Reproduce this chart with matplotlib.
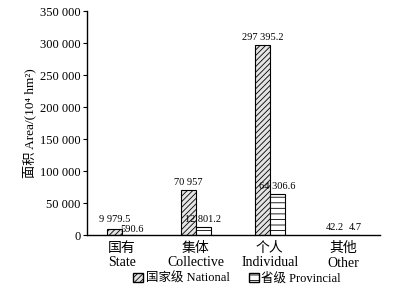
import matplotlib
matplotlib.use("Agg")
import matplotlib.pyplot as plt
import numpy as np
from matplotlib.patches import Patch

plt.rcParams['font.family'] = ['Liberation Serif', 'Noto Sans CJK SC']
plt.rcParams['hatch.linewidth'] = 0.6

categories_cn = ["国有", "集体", "个人", "其他"]
categories_en = ["State", "Collective", "Individual", "Other"]
national = [9979.5, 70957, 297395.2, 42.2]
provincial = [590.6, 12801.2, 64306.6, 4.7]
national_labels = ["9 979.5", "70 957", "297 395.2", "42.2"]
provincial_labels = ["590.6", "12 801.2", "64 306.6", "4.7"]
yticks = [0, 50000, 100000, 150000, 200000, 250000, 300000, 350000]
ytick_labels = ["0", "50 000", "100 000", "150 000", "200 000", "250 000", "300 000", "350 000"]

fig = plt.figure(figsize=(3.95, 2.99), dpi=100)
ax = fig.add_axes([0.22, 0.214, 0.742, 0.749])

x = np.arange(len(categories_cn))
w = 0.2
ax.bar(x - w/2, national, w, facecolor='#e4e4e4', edgecolor='black', hatch='//////', linewidth=0.8)
ax.bar(x + w/2, provincial, w, facecolor='white', edgecolor='black', hatch='---', linewidth=0.8)

for xi, v, p, lab in zip(x, national, provincial, national_labels):
    dx = 0.0
    if v < 1000:
        off = 4000
        dx = -0.02
    elif p < 1000:
        off = 8000
    else:
        off = 3500
    ax.text(xi - w/2 + dx, v + off, lab, ha='center', va='bottom', fontsize=7.5)
for xi, v, n, lab in zip(x, provincial, national, provincial_labels):
    if n < 1000:
        ax.text(xi + w/2 + 0.05, v + 4000, lab, ha='center', va='bottom', fontsize=7.5)
    elif v < 1000:
        ax.text(xi + w/2 + 0.04, v + 500, lab, ha='center', va='bottom', fontsize=7.5)
    else:
        ax.text(xi + w/2, v + 5000, lab, ha='center', va='bottom', fontsize=7.5)

ax.set_xlim(-0.47, 3.49)
ax.set_ylim(0, 350000)
ax.set_yticks(yticks)
ax.set_yticklabels(ytick_labels, fontsize=9)
ax.set_xticks(x)
ax.set_xticklabels([f"{c}\n{e}" for c, e in zip(categories_cn, categories_en)], fontsize=10, linespacing=1.15)
ax.tick_params(axis='x', length=0, pad=5)
ax.tick_params(axis='y', direction='out', length=3, width=0.8, pad=1.5)
for s in ['top', 'right']:
    ax.spines[s].set_visible(False)
ax.spines['left'].set_linewidth(1.0)
ax.spines['bottom'].set_linewidth(1.0)

ax.set_ylabel("面积 Area/(10⁴ hm²)", fontsize=9.5, labelpad=3)

handles = [Patch(facecolor='#e4e4e4', edgecolor='black', hatch='//////', label='国家级 National'),
           Patch(facecolor='white', edgecolor='black', hatch='---', label='省级 Provincial')]
fig.legend(handles=handles, loc='center', bbox_to_anchor=(0.6, 0.068), ncol=2, frameon=False,
           fontsize=9, handlelength=0.8, handleheight=0.8, handletextpad=0.2, columnspacing=1.5)

fig.savefig("out.png", dpi=100)
